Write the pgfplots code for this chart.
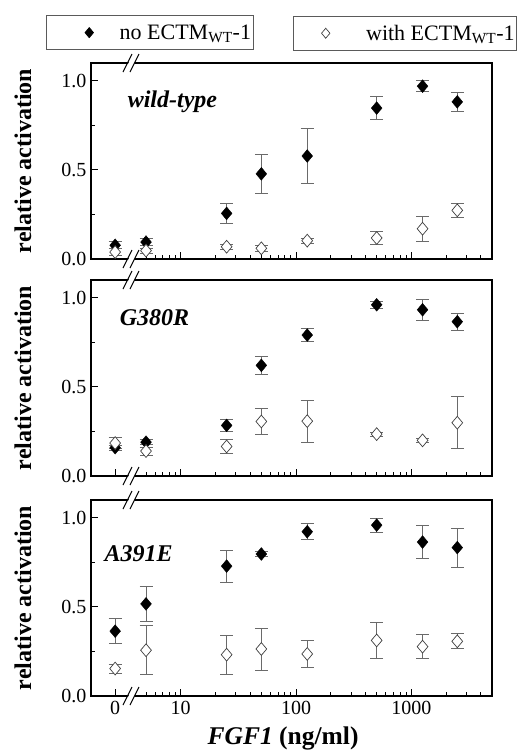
\documentclass[border=0pt]{standalone}
\usepackage{pgfplots}
\usepackage{pgfplotstable}
\pgfplotsset{compat=1.18}
\usepackage{fontspec}
\setmainfont{Liberation Serif}

% x = 2.7 stands for the zero dose, left of the axis break
\pgfplotstableread{
x     nf     enf    w      ew
2.7   0.077  0.020  0.039  0.020
5     0.095  0.020  0.047  0.015
25    0.256  0.055  0.069  0.015
50    0.478  0.108  0.060  0.015
125   0.578  0.155  0.103  0.015
500   0.847  0.065  0.118  0.035
1250  0.970  0.030  0.170  0.071
2500  0.882  0.052  0.273  0.040
}\wildtype

\pgfplotstableread{
x     nf     enf    w      ew
2.7   0.159  0.015  0.185  0.030
5     0.190  0.015  0.140  0.022
25    0.284  0.035  0.166  0.040
50    0.621  0.050  0.306  0.075
125   0.791  0.037  0.308  0.117
500   0.961  0.018  0.235  0.010
1250  0.933  0.059  0.200  0.010
2500  0.866  0.048  0.299  0.145
}\gthreeeighty

\pgfplotstableread{
x     nf     enf    w      ew
2.7   0.364  0.069  0.154  0.025
5     0.517  0.096  0.257  0.137
25    0.729  0.089  0.232  0.110
50    0.797  0.015  0.264  0.118
125   0.922  0.044  0.236  0.074
500   0.959  0.039  0.312  0.100
1250  0.864  0.094  0.277  0.066
2500  0.833  0.110  0.307  0.042
}\athreeninetyone

\definecolor{errgray}{HTML}{6A6A6A}
\definecolor{opengray}{HTML}{404040}
\definecolor{boxgray}{HTML}{5A5A5A}

\pgfplotsset{
  every axis/.append style={
    scale only axis, width=401pt, height=196pt,
    anchor=north west,
    xmin=1.667, xmax=5000,
    ymin=0, ymax=1.1,
    axis line style={line width=1.3pt},
    xtick={2.7,10,100,1000},
    minor xtick={5,6,7,8,9,20,30,40,50,60,70,80,90,200,300,400,500,600,700,800,900,2000,3000,4000},
    ytick={0,0.5,1}, yticklabels={0.0,0.5,1.0},
    minor ytick={0.25,0.75},
    xtick pos=bottom, ytick pos=left,
    tick align=inside,
    major tick length=7pt, minor tick length=4pt,
    tick style={line width=0.9pt, black},
    tick label style={font=\fontsize{20}{22}\selectfont},
    xticklabel style={yshift=-2pt},
    yticklabel style={xshift=-1pt},
    ylabel style={at={(axis description cs:-0.17,0.5)}, anchor=center,
      font=\fontsize{24}{26}\selectfont},
    clip=false,
    legend style={draw=boxgray, line width=0.8pt, fill=white,
      inner xsep=0pt, inner ysep=2pt,
      nodes={minimum height=30pt},
      font=\fontsize{22}{24}\selectfont},
  },
}

% break marks on a horizontal axis line at height y (pt, negative downward)
\newcommand{\axisbreak}[1]{%
  \fill[white] (124pt,#1-9pt) -- (133pt,#1+9pt) -- (139pt,#1+9pt) -- (130pt,#1-9pt) -- cycle;
  \draw[black, line width=1.1pt] (123pt,#1-9pt) -- (132pt,#1+9pt);
  \draw[black, line width=1.1pt] (130pt,#1-9pt) -- (139pt,#1+9pt);
}

\begin{document}
\begin{tikzpicture}
\useasboundingbox (0pt,0pt) rectangle (521pt,-756pt);

% wild-type
\begin{semilogxaxis}[at={(91pt,-63pt)},
  xticklabels={},
  ylabel={\textbf{relative activation}},
  legend style={at={(rel axis cs:0.147,1.155)}, anchor=center},
  legend image code/.code={\path (0pt,-6pt) (70pt,6pt);
    \draw[mark=diamond*, mark size=5pt, black, fill=black] plot coordinates {(42pt,0pt)};}]
  \addplot[only marks, mark=diamond*, mark size=6.4pt, mark options={black, fill=black, xscale=1.12},
    error bars/.cd, y dir=both, y explicit,
    error bar style={errgray, line width=0.8pt},
    error mark options={rotate=90, mark size=6.5pt, errgray, line width=0.8pt}]
    table[x=x, y=nf, y error=enf] {\wildtype};
  \addlegendentry{no ECTM\textsubscript{WT}-1\hspace{7pt}}
  \addplot[forget plot, only marks, mark=diamond*, mark size=6.4pt, mark options={opengray, fill=white, line width=0.7pt, xscale=1.12},
    error bars/.cd, y dir=both, y explicit,
    error bar style={errgray, line width=0.8pt},
    error mark options={rotate=90, mark size=6.5pt, errgray, line width=0.8pt}]
    table[x=x, y=w, y error=ew] {\wildtype};
  \node[anchor=west, font=\fontsize{24}{26}\selectfont\bfseries\itshape]
    at (rel axis cs:0.083,0.80) {wild-type};
\end{semilogxaxis}

% G380R
\begin{semilogxaxis}[at={(91pt,-280pt)},
  xticklabels={},
  ylabel={\textbf{relative activation}},
  legend style={at={(rel axis cs:0.783,2.259)}, anchor=center},
  legend image code/.code={\path (0pt,-6pt) (70pt,6pt);
    \draw[mark=diamond*, mark size=5pt, opengray, fill=white, line width=0.7pt] plot coordinates {(32pt,0pt)};}]
  \addplot[forget plot, only marks, mark=diamond*, mark size=6.4pt, mark options={black, fill=black, xscale=1.12},
    error bars/.cd, y dir=both, y explicit,
    error bar style={errgray, line width=0.8pt},
    error mark options={rotate=90, mark size=6.5pt, errgray, line width=0.8pt}]
    table[x=x, y=nf, y error=enf] {\gthreeeighty};
  \addplot[only marks, mark=diamond*, mark size=6.4pt, mark options={opengray, fill=white, line width=0.7pt, xscale=1.12},
    error bars/.cd, y dir=both, y explicit,
    error bar style={errgray, line width=0.8pt},
    error mark options={rotate=90, mark size=6.5pt, errgray, line width=0.8pt}]
    table[x=x, y=w, y error=ew] {\gthreeeighty};
  \addlegendentry{with ECTM\textsubscript{WT}-1\hspace{4pt}}
  \node[anchor=west, font=\fontsize{24}{26}\selectfont\bfseries\itshape]
    at (rel axis cs:0.063,0.81) {G380R};
\end{semilogxaxis}

% A391E
\begin{semilogxaxis}[at={(91pt,-500pt)},
  xticklabels={0,10,100,1000},
  ylabel={\textbf{relative activation}},
  xlabel={\textbf{\textit{FGF1} (ng/ml)}},
  xlabel style={at={(axis description cs:0.479,-0.215)}, anchor=center,
    font=\fontsize{25.5}{27}\selectfont}]
  \addplot[only marks, mark=diamond*, mark size=6.4pt, mark options={black, fill=black, xscale=1.12},
    error bars/.cd, y dir=both, y explicit,
    error bar style={errgray, line width=0.8pt},
    error mark options={rotate=90, mark size=6.5pt, errgray, line width=0.8pt}]
    table[x=x, y=nf, y error=enf] {\athreeninetyone};
  \addplot[only marks, mark=diamond*, mark size=6.4pt, mark options={opengray, fill=white, line width=0.7pt, xscale=1.12},
    error bars/.cd, y dir=both, y explicit,
    error bar style={errgray, line width=0.8pt},
    error mark options={rotate=90, mark size=6.5pt, errgray, line width=0.8pt}]
    table[x=x, y=w, y error=ew] {\athreeninetyone};
  \node[anchor=west, font=\fontsize{24}{26}\selectfont\bfseries\itshape]
    at (rel axis cs:0.025,0.727) {A391E};
\end{semilogxaxis}

% axis breaks between the zero dose and the logarithmic part
\axisbreak{-63pt}
\axisbreak{-259pt}
\axisbreak{-280pt}
\axisbreak{-476pt}
\axisbreak{-500pt}
\axisbreak{-696pt}
\end{tikzpicture}
\end{document}
